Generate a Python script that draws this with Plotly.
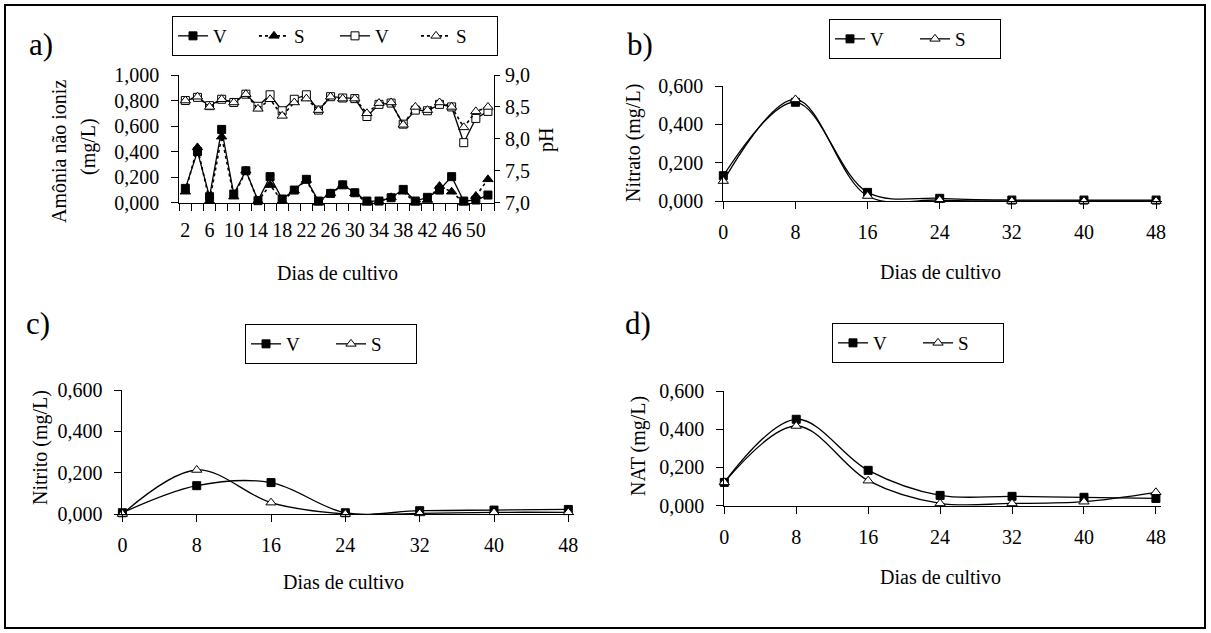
import plotly.graph_objects as go

W, H = 1211, 633

# ---------------- data ----------------
days_a = [2, 4, 6, 8, 10, 12, 14, 16, 18, 20, 22, 24, 26, 28, 30, 32, 34, 36, 38, 40, 42, 44, 46, 48, 50, 52]
day_labels_a = [2, 6, 10, 14, 18, 22, 26, 30, 34, 38, 42, 46, 50]
amon_V = [0.112, 0.400, 0.047, 0.574, 0.068, 0.250, 0.016, 0.204, 0.029, 0.099, 0.183, 0.013, 0.073,
          0.140, 0.078, 0.013, 0.013, 0.039, 0.104, 0.013, 0.042, 0.099, 0.204, 0.013, 0.021, 0.060]
amon_S = [0.086, 0.433, 0.013, 0.517, 0.047, 0.250, 0.013, 0.138, 0.013, 0.094, 0.178, 0.000, 0.073,
          0.138, 0.073, 0.000, 0.008, 0.042, 0.086, 0.000, 0.021, 0.130, 0.086, 0.000, 0.052, 0.183]
ph_V = [8.60, 8.65, 8.52, 8.62, 8.57, 8.70, 8.51, 8.69, 8.44, 8.62, 8.69, 8.45, 8.66,
        8.64, 8.63, 8.35, 8.54, 8.56, 8.23, 8.45, 8.44, 8.54, 8.50, 7.94, 8.32, 8.43]
ph_S = [8.60, 8.66, 8.50, 8.62, 8.57, 8.70, 8.47, 8.62, 8.36, 8.57, 8.63, 8.45, 8.66,
        8.63, 8.63, 8.40, 8.56, 8.57, 8.22, 8.50, 8.45, 8.57, 8.50, 8.18, 8.43, 8.50]

days = [0, 8, 16, 24, 32, 40, 48]
nitrato_V = [0.132, 0.515, 0.045, 0.014, 0.005, 0.005, 0.005]
nitrato_S = [0.104, 0.530, 0.026, 0.005, 0.000, 0.000, 0.000]
nitrito_V = [0.006, 0.137, 0.152, 0.006, 0.016, 0.019, 0.022]
nitrito_S = [0.000, 0.213, 0.055, 0.000, 0.003, 0.008, 0.008]
nat_V = [0.122, 0.452, 0.185, 0.054, 0.049, 0.044, 0.038]
nat_S = [0.122, 0.417, 0.131, 0.012, 0.012, 0.021, 0.070]

FONT = "Liberation Serif, Times New Roman, serif"
FS = 20


def px(x):
    return x / W


def py(y):
    return 1 - y / H


fig = go.Figure()

sq_fill = dict(symbol="square", size=8, color="black", line=dict(color="black", width=1))
tri_fill = dict(symbol="triangle-up", size=9, color="black", line=dict(color="black", width=1))
sq_open = dict(symbol="square", size=8, color="white", line=dict(color="black", width=1))
tri_open = dict(symbol="triangle-up", size=9, color="white", line=dict(color="black", width=1))

# panel a
fig.add_trace(go.Scatter(x=days_a, y=amon_V, name="V", mode="lines+markers", marker=sq_fill,
                         line=dict(color="black", width=1.3), xaxis="x", yaxis="y", legend="legend", cliponaxis=False))
fig.add_trace(go.Scatter(x=days_a, y=amon_S, name="S", mode="lines+markers", marker=tri_fill,
                         line=dict(color="black", width=1.6, dash="dot"), xaxis="x", yaxis="y", legend="legend", cliponaxis=False))
fig.add_trace(go.Scatter(x=days_a, y=ph_V, name="V", mode="lines+markers", marker=sq_open,
                         line=dict(color="black", width=1.3), xaxis="x", yaxis="y2", legend="legend", cliponaxis=False))
fig.add_trace(go.Scatter(x=days_a, y=ph_S, name="S", mode="lines+markers", marker=tri_open,
                         line=dict(color="black", width=1.6, dash="dot"), xaxis="x", yaxis="y2", legend="legend", cliponaxis=False))

# panels b, c, d
panels = [("x2", "y3", "legend2", nitrato_V, nitrato_S),
          ("x3", "y4", "legend3", nitrito_V, nitrito_S),
          ("x4", "y5", "legend4", nat_V, nat_S)]
for xa, ya, lg, v, s in panels:
    fig.add_trace(go.Scatter(x=days, y=v, name="V", mode="lines+markers", marker=sq_fill,
                             line=dict(color="black", width=1.3, shape="spline", smoothing=1),
                             xaxis=xa, yaxis=ya, legend=lg, cliponaxis=False))
    fig.add_trace(go.Scatter(x=days, y=s, name="S", mode="lines+markers", marker=tri_open,
                             line=dict(color="black", width=1.3, shape="spline", smoothing=1),
                             xaxis=xa, yaxis=ya, legend=lg, cliponaxis=False))

tickfont = dict(family=FONT, size=FS, color="black")
common_axis = dict(showline=True, linecolor="black", linewidth=1, showgrid=False, zeroline=False,
                   ticks="outside", ticklen=7, tickcolor="black", tickfont=tickfont, fixedrange=True,
                   automargin=False)

layout = dict(
    template="none",
    width=W, height=H, margin=dict(l=0, r=0, t=0, b=0, pad=0, autoexpand=False),
    paper_bgcolor="white", plot_bgcolor="white", separators=",.",
    font=dict(family=FONT, size=FS, color="black"),
    xaxis=dict(common_axis, domain=[px(179.3), px(494)], anchor="y", range=[1, 53],
               tickmode="array", tickvals=day_labels_a, ticks="", ticklabelstandoff=9,
               minor=dict(tickmode="array", tickvals=[1, 3, 5, 7, 9, 11, 13, 15, 17, 19, 21, 23, 25, 27, 29,
                                                       31, 33, 35, 37, 39, 41, 43, 45, 47, 49, 51, 53],
                          ticks="outside", ticklen=7, tickcolor="black", showgrid=False)),
    yaxis=dict(common_axis, domain=[py(202.7), py(75)], anchor="x", range=[0, 1],
               tickmode="array", tickvals=[0, 0.2, 0.4, 0.6, 0.8, 1.0], tickformat=".3f", ticklabelstandoff=8),
    yaxis2=dict(common_axis, domain=[py(202.7), py(75)], anchor="x", overlaying="y", side="right",
                range=[7, 9], tickmode="array", tickvals=[7, 7.5, 8, 8.5, 9], tickformat=".1f",
                ticklen=5, ticklabelstandoff=1),
)

xdoms = {"xaxis2": (723.3, 1161.5, "y3"), "xaxis3": (122.4, 573.9, "y4"), "xaxis4": (724.3, 1161.3, "y5")}
ydoms = {"yaxis3": (201, 86, "x2"), "yaxis4": (514, 390, "x3"), "yaxis5": (505.7, 391, "x4")}
for k, (a, b, anc) in xdoms.items():
    layout[k] = dict(common_axis, domain=[px(a), px(b)], anchor=anc, range=[0, 48.6],
                     tickmode="array", tickvals=days, ticklabelstandoff=6)
for k, (a, b, anc) in ydoms.items():
    layout[k] = dict(common_axis, domain=[py(a), py(b)], anchor=anc, range=[0, 0.6],
                     tickmode="array", tickvals=[0, 0.2, 0.4, 0.6], tickformat=".3f", ticklabelstandoff=8)

legfont = dict(family=FONT, size=19, color="black")


def leg(x0, y0, ew):
    return dict(x=px(x0), y=py(y0), xanchor="left", yanchor="top", orientation="h",
                bordercolor="black", borderwidth=1, bgcolor="white", font=legfont,
                entrywidth=ew, entrywidthmode="pixels", itemwidth=30, tracegroupgap=0)


layout["legend"] = leg(172, 16, 36)
layout["legend2"] = leg(829, 19, 40)
layout["legend3"] = leg(245, 324, 40)
layout["legend4"] = leg(832, 323, 40)

annotations = []


def ann(text, x, y, angle=0, size=FS):
    annotations.append(dict(text=text, x=px(x), y=py(y), xref="paper", yref="paper", showarrow=False,
                            textangle=angle, xanchor="center", yanchor="middle",
                            font=dict(family=FONT, size=size, color="black")))


# panel labels
ann("a)", 41, 45, size=31)
ann("b)", 640, 45, size=31)
ann("c)", 38, 323, size=31)
ann("d)", 638, 323, size=31)
# x titles
ann("Dias de cultivo", 337, 273)
ann("Dias de cultivo", 940, 272)
ann("Dias de cultivo", 343, 582)
ann("Dias de cultivo", 940, 577)
# y titles
ann("Amônia não ioniz", 59, 152, angle=-90)
ann("(mg/L)", 88, 147, angle=-90)
ann("pH", 546, 140, angle=-90)
ann("Nitrato (mg/L)", 634, 143, angle=-90)
ann("Nitrito (mg/L)", 40, 448, angle=-90)
ann("NAT (mg/L)", 638, 446, angle=-90)

layout["annotations"] = annotations
layout["shapes"] = [dict(type="rect", xref="paper", yref="paper", x0=px(5), x1=px(1205), y0=py(628), y1=py(5),
                         line=dict(color="black", width=2))]

fig.update_layout(**layout)
fig.write_html("out.html", config={"displayModeBar": False},
               post_script="document.body.style.margin='0px';document.body.style.overflow='hidden';")
